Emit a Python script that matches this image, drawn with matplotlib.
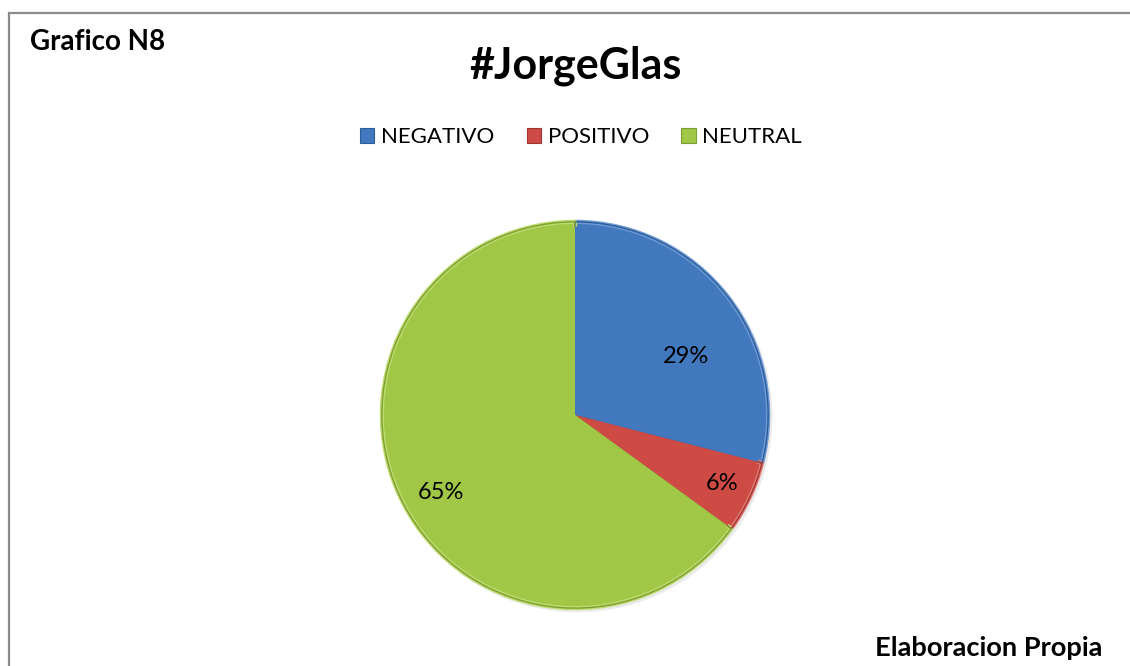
import matplotlib
matplotlib.use("Agg")
import matplotlib.pyplot as plt
import matplotlib.patches as mpatches
from matplotlib.lines import Line2D
import numpy as np

categories = ["NEGATIVO", "POSITIVO", "NEUTRAL"]
values = [29, 6, 65]
labels = ["29%", "6%", "65%"]
colors = ["#4178BE", "#CD4A45", "#A0C746"]
edge_colors = ["#2E5C97", "#A03531", "#7D9E33"]
light_colors = ["#6D9AD6", "#E27A75", "#BEDC6E"]

plt.rcParams['font.family'] = ['Lato', 'DejaVu Sans']

fig = plt.figure(figsize=(11.3, 6.66), dpi=100)

# border (top & left visible)
fig.add_artist(Line2D([9/1130, 9/1130], [0, 1 - 12.5/666], color="#8C8C8C", lw=1.6, transform=fig.transFigure))
fig.add_artist(Line2D([9/1130, 1], [1 - 12.5/666, 1 - 12.5/666], color="#8C8C8C", lw=1.6, transform=fig.transFigure))

cx, cy, r = 575, 415, 197
ax = fig.add_axes([(cx - r) / 1130, (666 - cy - r) / 666, 2 * r / 1130, 2 * r / 666])
# soft shadow
ax.pie(values, colors=["#000000"] * 3, startangle=90, counterclock=False,
       radius=1.01, center=(0.012, -0.012), wedgeprops=dict(linewidth=0, alpha=0.08))
# bevel: light rim, then main fill
wedges, _ = ax.pie(values, colors=colors, startangle=90, counterclock=False,
                   radius=1, wedgeprops=dict(linewidth=0))
for w, lc in zip(wedges, light_colors):
    w.set_edgecolor(lc)
    w.set_linewidth(3.0)
    w.set_joinstyle('round')
outer, _ = ax.pie(values, colors=["none"] * 3, startangle=90, counterclock=False,
                  radius=1, wedgeprops=dict(linewidth=1.0))
for w, ec in zip(outer, edge_colors):
    w.set_edgecolor(ec)
    w.set_facecolor("none")
ax.pie(values, colors=colors, startangle=90, counterclock=False,
       radius=0.975, wedgeprops=dict(linewidth=0))
ax.set_xlim(-1.02, 1.02)
ax.set_ylim(-1.02, 1.02)
ax.set_aspect('equal')
ax.axis('off')

# data labels
label_pos = [(0.65, 28), (0.84, -25), (0.80, -150)]
for lab, (dist, ang) in zip(labels, label_pos):
    a = np.deg2rad(ang)
    ax.text(dist * np.cos(a), dist * np.sin(a), lab, ha='center', va='center',
            fontsize=17, color='black')

fig.text(576/1130, 1 - 66/666, "#JorgeGlas", fontsize=31, fontweight='bold', ha='center', va='center')
fig.text(30/1130, 1 - 42/666, "Grafico N8", fontsize=20, fontweight='bold', ha='left', va='center')
fig.text(1102/1130, 1 - 648/666, "Elaboracion Propia", fontsize=19.6, fontweight='bold', ha='right', va='center')

handles = [mpatches.Patch(facecolor=c, edgecolor=e, lw=0.8) for c, e in zip(colors, edge_colors)]
leg = fig.legend(handles, categories, loc='center', bbox_to_anchor=(581/1130, 1 - 137/666),
                 ncol=3, frameon=False, fontsize=16, handlelength=0.65, handleheight=0.65,
                 handletextpad=0.3, columnspacing=1.45)

fig.savefig("out.png", dpi=100)
